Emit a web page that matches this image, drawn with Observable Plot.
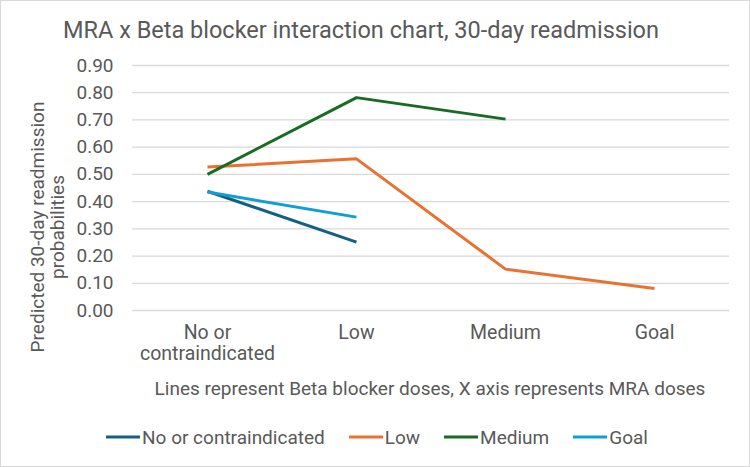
<!DOCTYPE html>
<html>
<head>
<meta charset="utf-8">
<script src="https://cdn.jsdelivr.net/npm/d3@7"></script>
<script src="https://cdn.jsdelivr.net/npm/@observablehq/plot@0.6"></script>
<style>
  html, body { margin: 0; padding: 0; background: #fff; }
  #wrap { position: relative; width: 750px; height: 467px; overflow: hidden; font-family: Roboto, "Liberation Sans", sans-serif; color: #595959; }
  #border { position: absolute; left: 0; top: 0; width: 748px; height: 465px; border: 1px solid #d9d9d9; pointer-events: none; }
  #plot { position: absolute; left: 0; top: 0; }
  .abs { position: absolute; white-space: nowrap; }
  #title { left: 361px; top: 30px; transform: translate(-50%, -50%); font-size: 23.5px; }
  #xtitle { left: 430px; top: 388px; transform: translate(-50%, -50%); font-size: 19px; }
  #ytitle { left: 48px; top: 227px; transform: translate(-50%, -50%) rotate(-90deg); font-size: 19px; text-align: center; line-height: 20px; }
  #legend { left: 377px; top: 437px; transform: translate(-50%, -50%); font-size: 19px; display: flex; align-items: center; gap: 24px; }
  .item { display: flex; align-items: center; }
  .sw { width: 34px; height: 3px; margin-right: 2px; }
</style>
</head>
<body>
<div id="wrap">
  <div id="plot"></div>
  <div id="title" class="abs">MRA x Beta blocker interaction chart, 30-day readmission</div>
  <div id="ytitle" class="abs">Predicted 30-day readmission<br>probabilities</div>
  <div id="xtitle" class="abs">Lines represent Beta blocker doses, X axis represents MRA doses</div>
  <div id="legend" class="abs"></div>
  <div id="border"></div>
</div>
<script>
const mraDoses = ["No or contraindicated", "Low", "Medium", "Goal"];
const betaSeries = ["No or contraindicated", "Low", "Medium", "Goal"];
const seriesColors = ["#156082", "#E97132", "#196B24", "#0F9ED5"];
const yTicks = [0, 0.1, 0.2, 0.3, 0.4, 0.5, 0.6, 0.7, 0.8, 0.9];

const betaNo = [0.438, 0.251];
const betaLow = [0.527, 0.557, 0.152, 0.081];
const betaMedium = [0.500, 0.782, 0.703];
const betaGoal = [0.435, 0.343];

const seriesValues = [betaNo, betaLow, betaMedium, betaGoal];
const data = [];
seriesValues.forEach((vals, i) => {
  vals.forEach((v, j) => data.push({ series: betaSeries[i], mra: mraDoses[j], value: v }));
});

const chart = Plot.plot({
  width: 750,
  height: 467,
  marginLeft: 132,
  marginRight: 21,
  marginTop: 65,
  marginBottom: 157,
  style: { fontFamily: "Roboto, 'Liberation Sans', sans-serif", color: "#595959", background: "transparent" },
  x: { type: "point", domain: mraDoses, padding: 0.5, label: null },
  y: { domain: [0, 0.9], label: null },
  color: { domain: betaSeries, range: seriesColors },
  marks: [
    Plot.gridY(yTicks, { stroke: "#d9d9d9", strokeOpacity: 1, strokeWidth: 1.3 }),
    Plot.axisY(yTicks, { tickSize: 0, tickPadding: 19, tickFormat: d3.format(".2f"), fontSize: 19, fill: "#595959", label: null }),
    Plot.axisX({ tickSize: 0, tickPadding: 13, fontSize: 19.5, lineHeight: 1.1, fill: "#595959", label: null,
      tickFormat: d => d === "No or contraindicated" ? "No or\ncontraindicated" : d }),
    Plot.line(data, { x: "mra", y: "value", z: "series", stroke: "series", strokeWidth: 3, strokeLinejoin: "round", strokeLinecap: "butt" })
  ]
});
document.getElementById("plot").appendChild(chart);

const legend = document.getElementById("legend");
betaSeries.forEach((s, i) => {
  const it = document.createElement("div");
  it.className = "item";
  const sw = document.createElement("div");
  sw.className = "sw";
  sw.style.background = seriesColors[i];
  const t = document.createElement("span");
  t.textContent = s;
  it.appendChild(sw);
  it.appendChild(t);
  legend.appendChild(it);
});
</script>
</body>
</html>
